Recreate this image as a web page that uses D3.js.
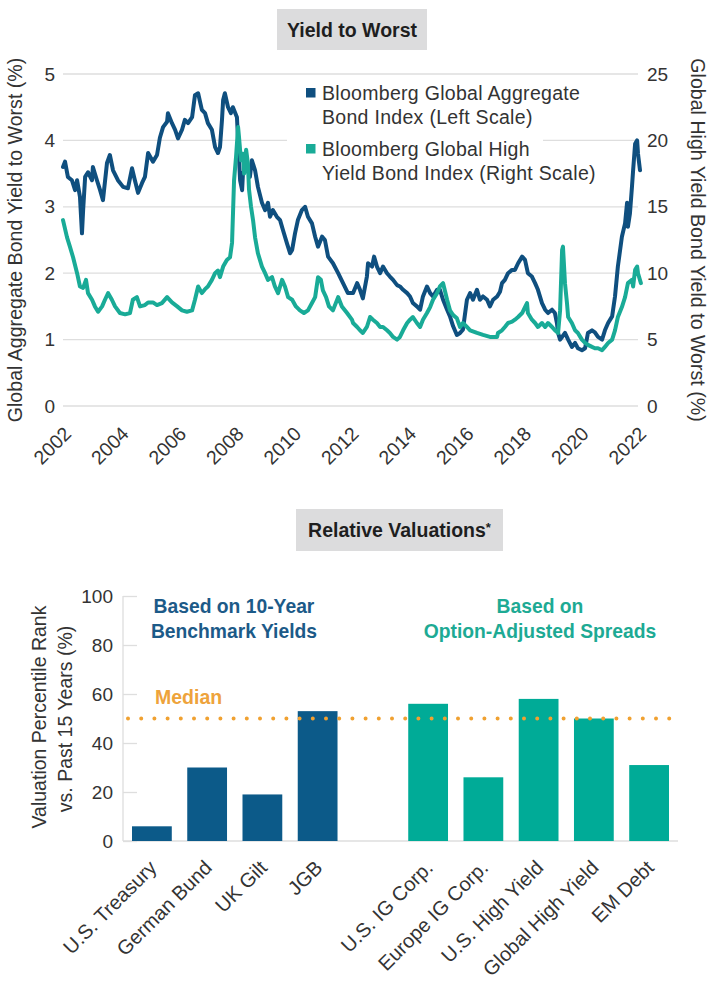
<!DOCTYPE html>
<html>
<head>
<meta charset="utf-8">
<script src="https://cdn.jsdelivr.net/npm/d3@7/dist/d3.min.js"></script>
<style>
  html, body { margin: 0; padding: 0; background: #fff; }
  svg { display: block; font-family: "Liberation Sans", Arial, Helvetica, sans-serif; }
</style>
</head>
<body>
<svg id="chart" width="720" height="1003"></svg>
<script>
// ---------------- DATA ----------------
// Bloomberg Global Aggregate Bond Index yield to worst (%), left scale  [decimal year, value]
const aggSeries = [
  [2002.00,3.60],[2002.07,3.68],[2002.17,3.45],[2002.31,3.40],[2002.42,3.25],[2002.49,3.40],[2002.59,3.15],
  [2002.66,2.60],[2002.70,2.95],[2002.77,3.45],[2002.87,3.52],[2003.01,3.40],[2003.04,3.60],[2003.18,3.40],
  [2003.29,3.25],[2003.39,3.10],[2003.53,3.66],[2003.63,3.78],[2003.74,3.55],[2003.91,3.40],[2004.09,3.30],
  [2004.26,3.28],[2004.40,3.58],[2004.50,3.40],[2004.61,3.21],[2004.75,3.36],[2004.85,3.45],[2004.96,3.81],
  [2005.13,3.68],[2005.27,3.78],[2005.37,4.04],[2005.48,4.20],[2005.62,4.28],[2005.65,4.41],[2005.79,4.26],
  [2005.90,4.16],[2006.00,4.03],[2006.14,4.16],[2006.24,4.31],[2006.35,4.26],[2006.49,4.35],[2006.59,4.68],
  [2006.70,4.71],[2006.83,4.46],[2006.94,4.41],[2007.04,4.26],[2007.18,4.16],[2007.29,3.90],[2007.39,3.81],
  [2007.46,3.90],[2007.53,4.31],[2007.57,4.61],[2007.63,4.71],[2007.74,4.50],[2007.84,4.41],[2007.91,4.50],
  [2008.05,4.35],[2008.09,4.00],[2008.16,3.40],[2008.23,3.25],[2008.26,3.51],[2008.40,3.60],[2008.50,3.45],
  [2008.57,3.70],[2008.68,3.55],[2008.78,3.30],[2008.92,3.06],[2009.03,2.95],[2009.13,3.06],[2009.20,2.85],
  [2009.30,2.95],[2009.44,2.85],[2009.55,2.80],[2009.65,2.65],[2009.79,2.45],[2009.90,2.30],[2009.97,2.35],
  [2010.07,2.60],[2010.17,2.80],[2010.31,2.95],[2010.42,3.00],[2010.52,2.85],[2010.66,2.75],[2010.77,2.55],
  [2010.87,2.40],[2011.01,2.55],[2011.11,2.50],[2011.22,2.25],[2011.39,2.15],[2011.57,2.00],[2011.74,1.85],
  [2011.91,1.70],[2012.09,1.70],[2012.23,1.85],[2012.33,1.75],[2012.43,1.62],[2012.57,1.95],[2012.61,2.15],
  [2012.75,2.10],[2012.82,2.25],[2012.92,2.10],[2013.03,2.00],[2013.13,2.10],[2013.27,2.00],[2013.37,1.95],
  [2013.48,1.90],[2013.62,1.82],[2013.72,1.80],[2013.83,1.75],[2013.97,1.70],[2014.07,1.65],[2014.17,1.55],
  [2014.31,1.50],[2014.42,1.45],[2014.52,1.65],[2014.66,1.80],[2014.77,1.70],[2014.87,1.65],[2015.01,1.75],
  [2015.11,1.75],[2015.22,1.60],[2015.36,1.45],[2015.46,1.35],[2015.57,1.20],[2015.70,1.07],[2015.81,1.10],
  [2015.91,1.15],[2016.05,1.60],[2016.16,1.70],[2016.26,1.60],[2016.40,1.75],[2016.50,1.60],[2016.61,1.65],
  [2016.75,1.60],[2016.85,1.50],[2016.96,1.60],[2017.10,1.65],[2017.20,1.72],[2017.27,1.85],[2017.37,1.90],
  [2017.48,2.00],[2017.62,2.05],[2017.72,2.05],[2017.83,2.15],[2017.97,2.25],[2018.07,2.20],[2018.17,2.00],
  [2018.31,1.95],[2018.42,1.85],[2018.52,1.75],[2018.66,1.55],[2018.77,1.45],[2018.87,1.40],[2019.01,1.45],
  [2019.11,1.40],[2019.18,1.25],[2019.22,1.10],[2019.29,1.00],[2019.36,1.04],[2019.46,1.10],[2019.57,1.00],
  [2019.70,0.89],[2019.81,0.95],[2019.91,0.87],[2020.05,0.84],[2020.16,0.87],[2020.26,1.10],[2020.40,1.14],
  [2020.50,1.11],[2020.61,1.04],[2020.75,1.00],[2020.85,1.14],[2020.96,1.25],[2021.10,1.35],[2021.20,1.65],
  [2021.30,2.10],[2021.44,2.55],[2021.55,2.75],[2021.62,3.06],[2021.65,2.70],[2021.72,2.90],[2021.79,3.30],
  [2021.83,3.55],[2021.90,3.95],[2021.97,4.00],[2022.00,3.80],[2022.07,3.55]
];
// Bloomberg Global High Yield Bond Index yield to worst (%), right scale  [decimal year, value]
const hySeries = [
  [2002.00,14.0],[2002.14,12.7],[2002.24,12.0],[2002.35,11.2],[2002.49,10.0],[2002.59,9.0],[2002.70,8.9],
  [2002.80,9.5],[2002.87,8.5],[2003.01,8.0],[2003.11,7.5],[2003.22,7.1],[2003.36,7.5],[2003.46,8.0],
  [2003.57,8.5],[2003.70,8.0],[2003.81,7.5],[2003.98,7.0],[2004.16,6.9],[2004.33,7.0],[2004.43,8.0],
  [2004.57,8.2],[2004.68,7.5],[2004.85,7.6],[2004.96,7.8],[2005.13,7.8],[2005.27,7.6],[2005.44,7.75],
  [2005.62,8.2],[2005.79,7.8],[2005.97,7.5],[2006.14,7.2],[2006.31,7.1],[2006.49,7.2],[2006.59,8.0],
  [2006.70,9.0],[2006.83,8.5],[2006.94,8.8],[2007.04,9.0],[2007.18,9.5],[2007.29,10.0],[2007.39,10.2],
  [2007.46,9.7],[2007.57,10.5],[2007.70,11.0],[2007.81,11.2],[2007.88,12.3],[2007.95,17.0],[2008.02,18.8],
  [2008.09,21.0],[2008.12,20.3],[2008.19,18.5],[2008.26,19.0],[2008.30,17.5],[2008.37,19.3],[2008.43,18.3],
  [2008.47,16.3],[2008.54,15.0],[2008.61,14.0],[2008.68,12.7],[2008.78,11.5],[2008.92,10.5],[2009.03,10.0],
  [2009.13,9.5],[2009.27,9.7],[2009.37,9.0],[2009.48,8.5],[2009.62,9.5],[2009.72,9.0],[2009.83,8.2],
  [2009.97,8.0],[2010.10,7.5],[2010.24,7.2],[2010.38,7.0],[2010.52,7.2],[2010.66,7.75],[2010.77,8.2],
  [2010.87,9.7],[2010.97,9.5],[2011.04,8.7],[2011.15,8.2],[2011.25,7.5],[2011.39,7.2],[2011.57,8.2],
  [2011.70,7.5],[2011.88,7.0],[2012.05,6.5],[2012.09,6.25],[2012.23,5.95],[2012.33,5.7],[2012.43,5.5],
  [2012.57,5.95],[2012.68,6.7],[2012.78,6.5],[2012.92,6.25],[2013.03,5.95],[2013.13,5.95],[2013.27,5.7],
  [2013.37,5.5],[2013.48,5.2],[2013.62,5.0],[2013.72,5.2],[2013.83,5.7],[2013.97,6.25],[2014.07,6.5],
  [2014.17,6.7],[2014.31,6.25],[2014.42,5.95],[2014.52,6.5],[2014.66,7.0],[2014.77,7.45],[2014.87,8.0],
  [2015.01,8.5],[2015.11,9.0],[2015.22,9.25],[2015.36,8.0],[2015.46,7.2],[2015.57,6.85],[2015.70,6.6],
  [2015.81,5.95],[2015.91,6.25],[2016.05,5.95],[2016.16,5.7],[2016.40,5.5],[2016.61,5.35],[2016.85,5.2],
  [2017.10,5.2],[2017.13,5.5],[2017.27,5.7],[2017.37,5.95],[2017.48,6.25],[2017.62,6.35],[2017.72,6.5],
  [2017.83,6.7],[2017.97,7.0],[2018.07,7.45],[2018.14,7.75],[2018.17,7.0],[2018.31,6.5],[2018.42,6.25],
  [2018.52,5.95],[2018.66,6.25],[2018.77,5.95],[2018.87,6.25],[2019.01,5.95],[2019.11,5.7],[2019.22,5.5],
  [2019.29,7.2],[2019.36,11.75],[2019.39,12.0],[2019.46,9.25],[2019.53,7.75],[2019.57,6.7],[2019.70,6.25],
  [2019.81,5.7],[2019.91,5.5],[2020.05,5.0],[2020.16,4.75],[2020.26,4.6],[2020.40,4.45],[2020.50,4.35],
  [2020.61,4.35],[2020.75,4.2],[2020.85,4.45],[2020.96,4.75],[2021.10,5.0],[2021.20,5.7],[2021.30,6.7],
  [2021.44,7.45],[2021.55,8.2],[2021.65,9.25],[2021.79,9.5],[2021.83,9.0],[2021.90,10.25],[2021.97,10.5],
  [2022.00,10.0],[2022.10,9.25]
];
const yearTicks = [2002, 2004, 2006, 2008, 2010, 2012, 2014, 2016, 2018, 2020, 2022];
const leftTicks = [0, 1, 2, 3, 4, 5];
const rightTicks = [0, 5, 10, 15, 20, 25];
const legendLabels = [
  ["Bloomberg Global Aggregate", "Bond Index (Left Scale)"],
  ["Bloomberg Global High", "Yield Bond Index (Right Scale)"]
];

// Relative valuations: percentile rank vs. past 15 years (%)
const govCategories = ["U.S. Treasury", "German Bund", "UK Gilt", "JGB"];
const govValues = [6, 30, 19, 53];
const spreadCategories = ["U.S. IG Corp.", "Europe IG Corp.", "U.S. High Yield", "Global High Yield", "EM Debt"];
const spreadValues = [56, 26, 58, 50, 31];
const rankTicks = [0, 20, 40, 60, 80, 100];
const medianValue = 50;

// ---------------- STYLE ----------------
const BLUE = "#0f4f7f", TEAL = "#19ab97";
const BAR_BLUE = "#0c5a89", BAR_TEAL = "#00ab97";
const GRID = "#dedede", TXT = "#333";
const ORANGE = "#f0a131";

const svg = d3.select("#chart");

function titleBox(cx, y, w, h, parts) {
  svg.append("rect").attr("x", cx - w / 2).attr("y", y).attr("width", w).attr("height", h).attr("fill", "#dcdcdd");
  const t = svg.append("text").attr("x", cx).attr("y", y + h / 2 + 7).attr("text-anchor", "middle")
    .attr("font-weight", "bold").attr("font-size", 19.5).attr("fill", "#1e1e1e");
  parts.forEach(p => {
    const s = t.append("tspan").text(p.text);
    if (p.sup) s.attr("font-size", 13).attr("dy", -5);
  });
}

// ================= TOP CHART =================
const x = d3.scaleLinear().domain([2002, 2022]).range([63, 638]);
const yL = d3.scaleLinear().domain([0, 5]).range([406, 74]);
const yR = d3.scaleLinear().domain([0, 25]).range([406, 74]);

titleBox(352, 9, 150, 41, [{ text: "Yield to Worst" }]);

// gridlines
svg.append("g").selectAll("line").data(leftTicks).join("line")
  .attr("x1", 63).attr("x2", 638).attr("y1", d => yL(d)).attr("y2", d => yL(d))
  .attr("stroke", GRID).attr("stroke-width", 1.3);

// left axis labels
const gL = svg.append("g").attr("transform", "translate(63,0)")
  .call(d3.axisLeft(yL).tickValues(leftTicks).tickSize(0).tickPadding(8).tickFormat(d3.format("d")));
gL.select(".domain").remove();
gL.selectAll("text").attr("font-size", 19).attr("fill", TXT).attr("font-family", null);

const gR = svg.append("g").attr("transform", "translate(638,0)")
  .call(d3.axisRight(yR).tickValues(rightTicks).tickSize(0).tickPadding(9).tickFormat(d3.format("d")));
gR.select(".domain").remove();
gR.selectAll("text").attr("font-size", 19).attr("fill", TXT).attr("font-family", null);

// x axis labels
const gX = svg.append("g").attr("transform", "translate(0,406)")
  .call(d3.axisBottom(x).tickValues(yearTicks).tickSize(0).tickFormat(d3.format("d")));
gX.select(".domain").remove();
gX.selectAll("text").attr("font-size", 19.5).attr("fill", TXT).attr("font-family", null)
  .attr("text-anchor", "end").attr("dy", null).attr("y", null)
  .attr("transform", "translate(9,29) rotate(-45)");

// axis titles
svg.append("text").attr("transform", `translate(22,${(74 + 406) / 2}) rotate(-90)`)
  .attr("text-anchor", "middle").attr("font-size", 19.6).attr("fill", TXT)
  .text("Global Aggregate Bond Yield to Worst (%)");
svg.append("text").attr("transform", `translate(691,${(74 + 406) / 2}) rotate(90)`)
  .attr("text-anchor", "middle").attr("font-size", 19.6).attr("fill", TXT)
  .text("Global High Yield Bond Yield to Worst (%)");

// legend backdrop (hides gridline under legend)
svg.append("rect").attr("x", 287).attr("y", 131).attr("width", 256).attr("height", 18).attr("fill", "#fff");
const legColors = [BLUE, TEAL];
legendLabels.forEach((lines, i) => {
  const y0 = 100 + i * 56;
  svg.append("rect").attr("x", 306).attr("y", y0 - 12).attr("width", 9.5).attr("height", 9.5).attr("fill", legColors[i]);
  lines.forEach((ln, j) => {
    svg.append("text").attr("x", 322).attr("y", y0 + j * 24).attr("font-size", 19.5)
      .attr("letter-spacing", 0.3).attr("fill", TXT).text(ln);
  });
});

// lines
const lineL = d3.line().x(d => x(d[0])).y(d => yL(d[1]));
const lineR = d3.line().x(d => x(d[0])).y(d => yR(d[1]));
svg.append("path").datum(aggSeries).attr("d", lineL).attr("fill", "none")
  .attr("stroke", BLUE).attr("stroke-width", 4).attr("stroke-linejoin", "round").attr("stroke-linecap", "round");
svg.append("path").datum(hySeries).attr("d", lineR).attr("fill", "none")
  .attr("stroke", TEAL).attr("stroke-width", 4).attr("stroke-linejoin", "round").attr("stroke-linecap", "round");

// ================= BOTTOM CHART =================
titleBox(399.5, 509, 207, 42, [{ text: "Relative Valuations" }, { text: "*", sup: true }]);

const allCats = [...govCategories, "", ...spreadCategories];
const allVals = [...govValues, null, ...spreadValues];
const allColors = [...govCategories.map(() => BAR_BLUE), null, ...spreadCategories.map(() => BAR_TEAL)];
const xb = d3.scaleBand().domain(allCats.map((c, i) => i)).range([123, 678]).paddingInner(0.28).paddingOuter(0.163);
const yb = d3.scaleLinear().domain([0, 100]).range([841, 596]);

// y axis
const gY = svg.append("g").attr("transform", "translate(123,0)")
  .call(d3.axisLeft(yb).tickValues(rankTicks).tickSize(-14).tickPadding(10).tickFormat(d3.format("d")));
gY.select(".domain").attr("stroke", GRID).attr("stroke-width", 1.3).attr("d", `M0,${yb(100)}V${yb(0)}`);
gY.selectAll(".tick line").attr("stroke", GRID).attr("stroke-width", 1.3);
gY.selectAll("text").attr("font-size", 19).attr("fill", TXT).attr("font-family", null);

// baseline
svg.append("line").attr("x1", 123).attr("x2", 678).attr("y1", yb(0)).attr("y2", yb(0))
  .attr("stroke", GRID).attr("stroke-width", 1.3);

// bars
svg.append("g").selectAll("rect").data(allVals.map((v, i) => ({ v, i })).filter(d => d.v !== null)).join("rect")
  .attr("x", d => xb(d.i)).attr("width", xb.bandwidth())
  .attr("y", d => yb(d.v)).attr("height", d => yb(0) - yb(d.v))
  .attr("fill", d => allColors[d.i]);

// median dotted line
svg.append("line").attr("x1", 128).attr("x2", 676).attr("y1", yb(medianValue)).attr("y2", yb(medianValue))
  .attr("stroke", ORANGE).attr("stroke-width", 4).attr("stroke-linecap", "round").attr("stroke-dasharray", "0 13.2");
svg.append("text").attr("x", 155).attr("y", 704).attr("font-size", 19.5).attr("font-weight", "bold")
  .attr("fill", "#eea33b").text("Median");

// group annotations
const annBlue = ["Based on 10-Year", "Benchmark Yields"];
const annTeal = ["Based on", "Option-Adjusted Spreads"];
annBlue.forEach((t, j) => svg.append("text").attr("x", 234).attr("y", 613 + j * 25).attr("text-anchor", "middle")
  .attr("font-size", 19.3).attr("font-weight", "bold").attr("fill", "#1c5a88").text(t));
annTeal.forEach((t, j) => svg.append("text").attr("x", 540).attr("y", 613 + j * 25).attr("text-anchor", "middle")
  .attr("font-size", 19.3).attr("font-weight", "bold").attr("fill", "#1daa94").text(t));

// y title
svg.append("text").attr("transform", `translate(46,717) rotate(-90)`).attr("text-anchor", "middle")
  .attr("font-size", 19.5).attr("fill", TXT).text("Valuation Percentile Rank");
svg.append("text").attr("transform", `translate(72,719) rotate(-90)`).attr("text-anchor", "middle")
  .attr("font-size", 19.5).attr("fill", TXT).text("vs. Past 15 Years (%)");

// x labels
svg.append("g").selectAll("text").data(allCats.map((c, i) => ({ c, i })).filter(d => d.c !== "")).join("text")
  .attr("transform", d => `translate(${xb(d.i) + xb.bandwidth() / 2 + 6},869) rotate(-45)`)
  .attr("text-anchor", "end").attr("font-size", 20).attr("fill", TXT).text(d => d.c);
</script>
</body>
</html>
